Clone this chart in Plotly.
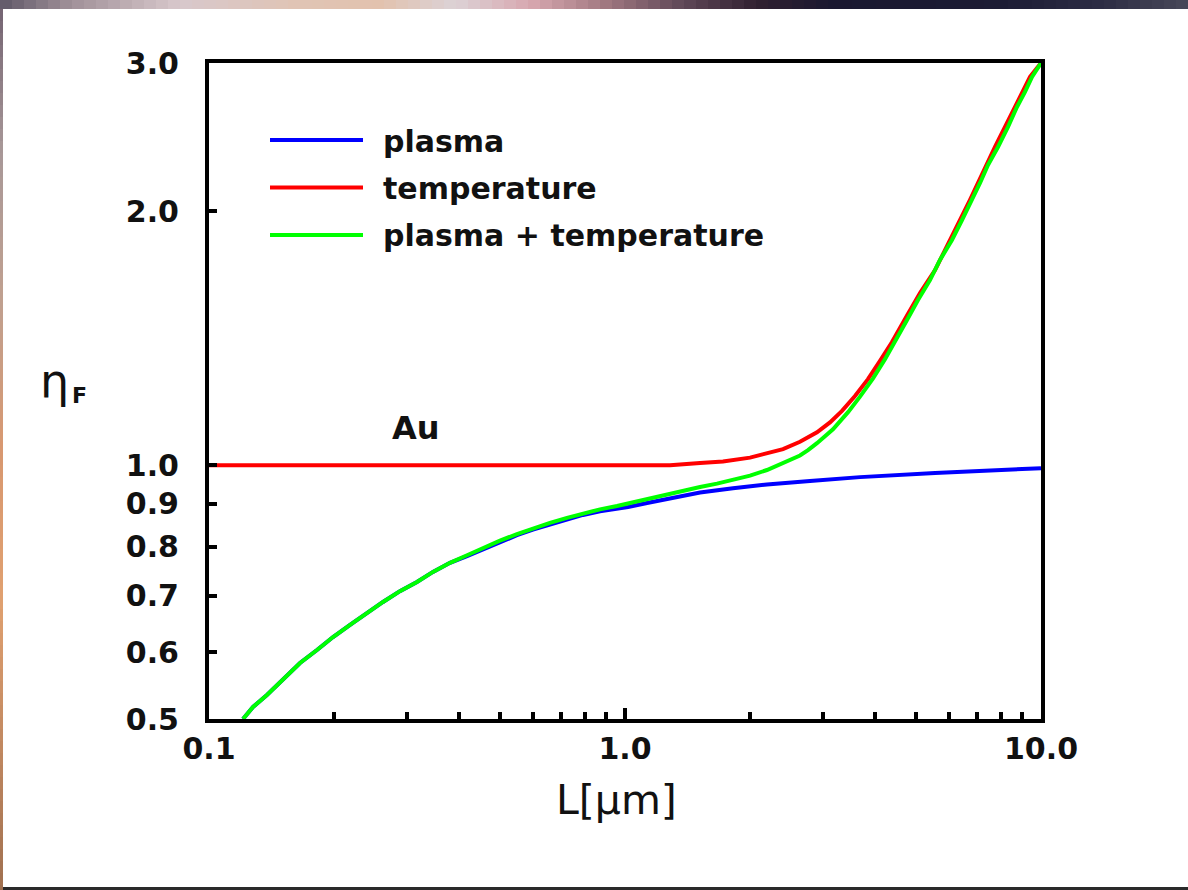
import math
import plotly.graph_objects as go

# ---- data: eta_F versus film thickness L (micrometres), Au ----
L_plasma = [0.1207, 0.1276, 0.1378, 0.1506, 0.1655, 0.1818, 0.1987, 0.2183, 0.2398,
            0.2620, 0.2877, 0.3162, 0.3455, 0.3796, 0.4171, 0.4558, 0.5006, 0.5499,
            0.6008, 0.6601, 0.7254, 0.7925, 0.8707, 1.017, 1.13, 1.262, 1.379, 1.515,
            1.818, 2.194, 2.784, 3.672, 5.563, 7.969, 10.0]
eta_plasma = [0.500, 0.5167, 0.5339, 0.5563, 0.5826, 0.6037, 0.6255, 0.6464, 0.6679,
              0.6883, 0.7090, 0.7270, 0.7472, 0.7660, 0.7800, 0.7950, 0.8110, 0.8260,
              0.8390, 0.8510, 0.8620, 0.8730, 0.8820, 0.8920, 0.9020, 0.9120, 0.9200,
              0.9280, 0.9390, 0.9490, 0.9580, 0.9680, 0.9790, 0.9880, 0.9920]

L_temp = [0.1, 1.283, 1.515, 1.720, 1.998, 2.194, 2.398, 2.634, 2.894, 3.110, 3.324,
          3.572, 3.838, 4.102, 4.384, 4.764, 5.119, 5.563, 6.042, 6.751, 7.752,
          8.659, 9.410, 10.0]
eta_temp = [1.0, 1.0, 1.006, 1.010, 1.021, 1.032, 1.045, 1.066, 1.094, 1.124, 1.160,
            1.208, 1.265, 1.330, 1.400, 1.505, 1.600, 1.704, 1.850, 2.064,
            2.385, 2.661, 2.888, 3.0]

L_both = [0.1207, 0.1276, 0.1378, 0.1506, 0.1655, 0.1818, 0.1987, 0.2183, 0.2398,
          0.2620, 0.2877, 0.3162, 0.3455, 0.3796, 0.4171, 0.4558, 0.5006, 0.5499,
          0.6008, 0.6601, 0.7254, 0.7925, 0.8707, 0.9567, 1.045, 1.148, 1.262, 1.379,
          1.515, 1.664, 1.818, 1.998, 2.194, 2.398, 2.634, 2.754, 2.894, 3.162, 3.324,
          3.437, 3.672, 3.947, 4.217, 4.506, 4.764, 5.062, 5.410, 5.717, 6.110, 6.459,
          6.826, 7.136, 7.458, 7.882, 8.331, 8.755, 9.153, 9.515, 10.0]
eta_both = [0.500, 0.5167, 0.5339, 0.5563, 0.5826, 0.6037, 0.6255, 0.6464, 0.6679,
            0.6883, 0.7090, 0.7270, 0.7472, 0.7660, 0.7820, 0.7979, 0.8140, 0.8285,
            0.8420, 0.8543, 0.8660, 0.8770, 0.8865, 0.8947, 0.9040, 0.9144, 0.9245,
            0.9330, 0.9423, 0.9510, 0.9605, 0.9720, 0.9870, 1.0050, 1.0270, 1.0420,
            1.0620, 1.1030, 1.1320, 1.1560, 1.2060, 1.2680, 1.3360, 1.4130, 1.4867,
            1.5702, 1.6584, 1.7517, 1.8501, 1.9538, 2.0638, 2.1616, 2.2708, 2.3850,
            2.5194, 2.6606, 2.7718, 2.8877, 3.0]

series_names = ["plasma", "temperature", "plasma + temperature"]
series_colors = ["#0000ff", "#ff0000", "#00ff00"]

x_tick_vals = [0.1, 1.0, 10.0]
x_tick_text = ["0.1", "1.0", "10.0"]
x_minor_vals = [0.2, 0.3, 0.4, 0.5, 0.6, 0.7, 0.8, 0.9, 2, 3, 4, 5, 6, 7, 8, 9]
y_tick_vals = [0.5, 0.6, 0.7, 0.8, 0.9, 1.0, 2.0, 3.0]
y_tick_text = ["0.5", "0.6", "0.7", "0.8", "0.9", "1.0", "2.0", "3.0"]

# ---- page geometry (pixels) ----
W, H = 1188, 890
PL, PR, PT, PB = 209, 1041, 63, 719


def px_to_paper(px, py):
    return (px - PL) / (PR - PL), (PB - py) / (PB - PT)


FONT = "DejaVu Sans, Verdana, sans-serif"
INK = "#111111"

fig = go.Figure()
for xs, ys, name, col in zip([L_plasma, L_temp, L_both],
                             [eta_plasma, eta_temp, eta_both],
                             series_names, series_colors):
    fig.add_trace(go.Scatter(x=xs, y=ys, mode="lines", name=name,
                             line=dict(color=col, width=4), showlegend=False))

shapes = []
annotations = []

# slide frame: shaded strip along the top edge, left edge and bottom edge
top_stops = [(0, (0x60, 0x58, 0x68)), (70, (0xa0, 0x90, 0x98)), (180, (0xd8, 0xc8, 0xcc)),
             (300, (0xe0, 0xc4, 0xb4)), (380, (0xe2, 0xc2, 0xae)), (455, (0xdc, 0xd2, 0xd6)),
             (530, (0xd8, 0xa8, 0xb0)), (606, (0xa0, 0x78, 0x80)), (682, (0x60, 0x48, 0x58)),
             (758, (0x30, 0x20, 0x30)), (833, (0x1a, 0x18, 0x30)), (1000, (0x1c, 0x1c, 0x34)),
             (1100, (0x2c, 0x2c, 0x44)), (1188, (0x48, 0x48, 0x58))]
left_stops = [(0, (0x70, 0x60, 0x70)), (150, (0xa8, 0x98, 0x98)), (300, (0xc0, 0xa0, 0x90)),
              (450, (0xd8, 0x98, 0x70)), (600, (0xe0, 0xa0, 0x70)), (750, (0xc0, 0x88, 0x60)),
              (890, (0xa0, 0x70, 0x50))]


def stop_color(stops, p):
    for (p0, c0), (p1, c1) in zip(stops[:-1], stops[1:]):
        if p0 <= p <= p1:
            t = (p - p0) / (p1 - p0)
            return "rgb(%d,%d,%d)" % tuple(round(a + (b - a) * t) for a, b in zip(c0, c1))
    return "rgb(%d,%d,%d)" % stops[-1][1]


seg = 12
for x0 in range(0, W, seg):
    xa, ya = px_to_paper(x0, 0)
    xb, yb = px_to_paper(min(x0 + seg, W), 9)
    shapes.append(dict(type="rect", xref="paper", yref="paper", x0=xa, x1=xb, y0=yb, y1=ya,
                       fillcolor=stop_color(top_stops, x0 + seg / 2), line=dict(width=0),
                       layer="below"))
for y0 in range(9, H, seg):
    xa, ya = px_to_paper(0, y0)
    xb, yb = px_to_paper(3, min(y0 + seg, H))
    shapes.append(dict(type="rect", xref="paper", yref="paper", x0=xa, x1=xb, y0=yb, y1=ya,
                       fillcolor=stop_color(left_stops, y0 + seg / 2), line=dict(width=0),
                       layer="below"))
xa, ya = px_to_paper(3, 887)
xb, yb = px_to_paper(W, H)
shapes.append(dict(type="rect", xref="paper", yref="paper", x0=xa, x1=xb, y0=yb, y1=ya,
                   fillcolor="#2a2a2a", line=dict(width=0), layer="below"))

# legend block drawn inside the plot area
for i, (name, col) in enumerate(zip(series_names, series_colors)):
    ly = 140 + 47.5 * i
    xa, yl = px_to_paper(270, ly)
    xb, _ = px_to_paper(363, ly)
    shapes.append(dict(type="line", xref="paper", yref="paper", x0=xa, x1=xb, y0=yl, y1=yl,
                       line=dict(color=col, width=4)))
    tx, ty = px_to_paper(381, ly + 1)
    annotations.append(dict(xref="paper", yref="paper", x=tx, y=ty, xanchor="left",
                            yanchor="middle", showarrow=False, text="<b>%s</b>" % name,
                            font=dict(family=FONT, size=30, color=INK)))

# material label
annotations.append(dict(xref="x", yref="y", x=math.log10(0.3145), y=math.log10(1.107),
                        xanchor="center", yanchor="middle", showarrow=False, text="<b>Au</b>",
                        font=dict(family=FONT, size=32, color=INK)))

# axis titles
tx, ty = px_to_paper(616, 800)
annotations.append(dict(xref="paper", yref="paper", x=tx, y=ty, xanchor="center",
                        yanchor="middle", showarrow=False, text="L[µm]",
                        font=dict(family=FONT, size=41, color=INK)))
tx, ty = px_to_paper(54, 381)
annotations.append(dict(xref="paper", yref="paper", x=tx, y=ty, xanchor="center",
                        yanchor="middle", showarrow=False, text="η",
                        font=dict(family=FONT, size=46, color=INK)))
tx, ty = px_to_paper(79, 396)
annotations.append(dict(xref="paper", yref="paper", x=tx, y=ty, xanchor="center",
                        yanchor="middle", showarrow=False, text="<b>F</b>",
                        font=dict(family=FONT, size=22, color=INK)))

fig.update_layout(
    width=W, height=H,
    margin=dict(l=PL, r=W - PR, t=PT, b=H - PB, pad=0),
    paper_bgcolor="white", plot_bgcolor="white",
    shapes=shapes, annotations=annotations,
    xaxis=dict(type="log", range=[-1, 1], showgrid=False, zeroline=False,
               showline=True, linecolor="black", linewidth=4, mirror=True,
               tickmode="array", tickvals=x_tick_vals, ticktext=x_tick_text,
               ticks="inside", ticklen=11, tickwidth=4, tickcolor="black",
               ticklabelstandoff=0,
               tickfont=dict(family=FONT, size=30, color=INK, weight="bold"),
               minor=dict(tickmode="array", tickvals=x_minor_vals, ticks="inside",
                          ticklen=7, tickwidth=4, tickcolor="black", showgrid=False)),
    yaxis=dict(type="log", range=[math.log10(0.5), math.log10(3.0)], showgrid=False,
               zeroline=False, showline=True, linecolor="black", linewidth=4, mirror=True,
               tickmode="array", tickvals=y_tick_vals, ticktext=y_tick_text,
               ticks="inside", ticklen=8, tickwidth=4, tickcolor="black",
               ticklabelstandoff=20,
               tickfont=dict(family=FONT, size=30, color=INK, weight="bold")),
)

fig.write_html("out.html")
